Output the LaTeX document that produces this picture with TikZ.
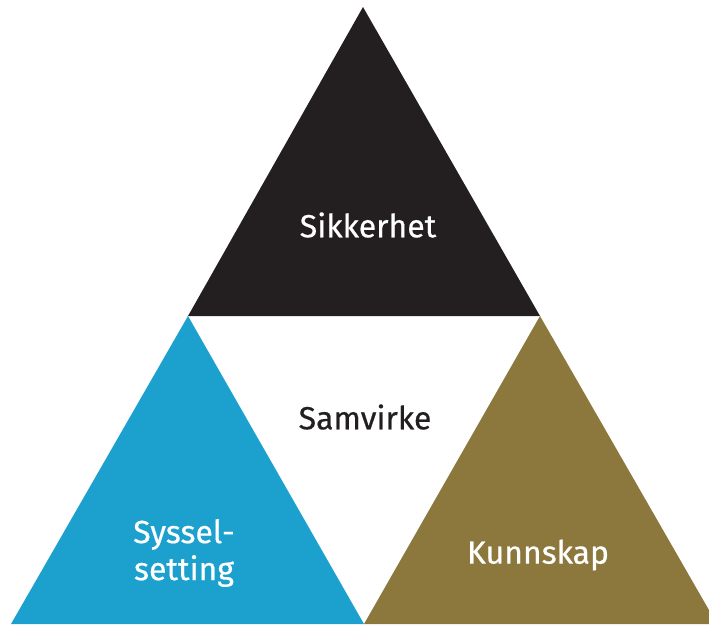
\documentclass[tikz,border=0pt]{standalone}
\usepackage{fontspec}
\setmainfont{Fira Sans}[BoldFont={Fira Sans}, BoldFeatures={FakeBold=0.5}]
\usepackage{tikz}
\usetikzlibrary{positioning}
\definecolor{sikblack}{HTML}{231F20}
\definecolor{sysblue}{HTML}{1CA0CE}
\definecolor{kunbrown}{HTML}{8C773D}

\begin{document}
\begin{tikzpicture}[
		x=1pt, y=-1pt,
		label/.style={font=\fontsize{32}{37}\selectfont\bfseries, align=center, inner sep=0pt},
		onfill/.style={label, text=white}]
		\clip (0,0) rectangle (709,624);
		\coordinate (top) at (363,7);
		\coordinate (left) at (188,316);
		\coordinate (right) at (540,316);
		\coordinate (bl) at (11,624);
		\coordinate (bm) at (364,624);
		\coordinate (br) at (717,624);
		\fill[sikblack] (top) -- (left) -- (right) -- cycle;
		\fill[sysblue] (left) -- (bl) -- (bm) -- cycle;
		\fill[kunbrown] (right) -- (bm) -- (br) -- cycle;
		
		\node[onfill] (sik) at (368,225) {Sikkerhet};
		\node[label, text=sikblack] (sam) at (365,417) {Samvirke};
		\node[onfill] (sys) at (184,553) {Syssel-\\setting};
		\node[onfill] (kun) at (538,555) {Kunnskap};
	\end{tikzpicture}
\end{document}
